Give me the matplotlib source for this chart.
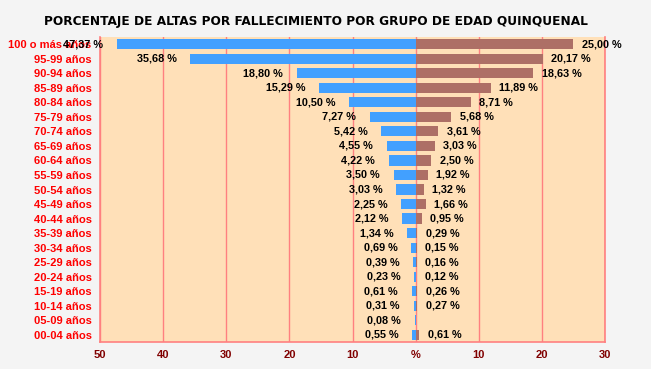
import matplotlib
matplotlib.use("Agg")
import matplotlib.pyplot as plt
import numpy as np

categories = ["100 o más años", "95-99 años", "90-94 años", "85-89 años", "80-84 años",
              "75-79 años", "70-74 años", "65-69 años", "60-64 años", "55-59 años",
              "50-54 años", "45-49 años", "40-44 años", "35-39 años", "30-34 años",
              "25-29 años", "20-24 años", "15-19 años", "10-14 años", "05-09 años",
              "00-04 años"]
left_values = [47.37, 35.68, 18.80, 15.29, 10.50, 7.27, 5.42, 4.55, 4.22, 3.50,
               3.03, 2.25, 2.12, 1.34, 0.69, 0.39, 0.23, 0.61, 0.31, 0.08, 0.55]
right_values = [25.00, 20.17, 18.63, 11.89, 8.71, 5.68, 3.61, 3.03, 2.50, 1.92,
                1.32, 1.66, 0.95, 0.29, 0.15, 0.16, 0.12, 0.26, 0.27, None, 0.61]
tick_values = [-50, -40, -30, -20, -10, 0, 10, 20, 30]
tick_labels = ["50", "40", "30", "20", "10", "%", "10", "20", "30"]
title = "PORCENTAJE DE ALTAS POR FALLECIMIENTO POR GRUPO DE EDAD QUINQUENAL"

W, H = 651, 369
fig = plt.figure(figsize=(W / 100, H / 100), dpi=100, facecolor="#F4F4F4")
ax = fig.add_axes([100 / W, 1 - 342 / H, 505 / W, 305 / H])
ax.set_facecolor("#FFE0B8")

y = np.arange(len(categories))
lv = np.array(left_values)
rv = np.array([v if v is not None else 0 for v in right_values])

ax.barh(y, -lv, height=0.7, color="#42A0FF", zorder=3)
ax.barh(y, rv, height=0.7, color="#AD6F66", zorder=3)

lab_font = "Liberation Sans"
fnt = dict(fontsize=7.8, fontweight="bold", color="black", family=lab_font)
for yi, v in zip(y, left_values):
    ax.annotate(f"{v:.2f} %".replace(".", ","), xy=(-v, yi), xytext=(-10, 0),
                textcoords="offset points", ha="right", va="center", zorder=5, **fnt)
for yi, v in zip(y, right_values):
    if v is None:
        continue
    ax.annotate(f"{v:.2f} %".replace(".", ","), xy=(v, yi), xytext=(6, 0),
                textcoords="offset points", ha="left", va="center", zorder=5, **fnt)

ax.set_xlim(-50, 30)
ax.set_ylim(len(categories) - 0.5, -0.5)
ax.set_xticks(tick_values)
ax.set_xticklabels(tick_labels, fontsize=8, fontweight="bold", color="#800000", family=lab_font)
ax.set_yticks(y)
ax.set_yticklabels(categories, fontsize=8, fontweight="bold", color="#FF0000", family=lab_font)
ax.tick_params(axis="both", length=0)
ax.tick_params(axis="x", pad=6)
ax.tick_params(axis="y", pad=6)
ax.grid(axis="x", color="#FF8080", linewidth=1, zorder=1)
ax.grid(axis="y", visible=False)
for s in ["left", "right", "bottom"]:
    ax.spines[s].set_color("#FF8080")
    ax.spines[s].set_linewidth(1.2)
ax.spines["top"].set_visible(False)

fig.text(316 / W, 1 - 21.5 / H, title, ha="center", va="center", fontsize=8.7,
         fontweight="bold", color="black")

fig.savefig("out.png", dpi=100, facecolor=fig.get_facecolor())
